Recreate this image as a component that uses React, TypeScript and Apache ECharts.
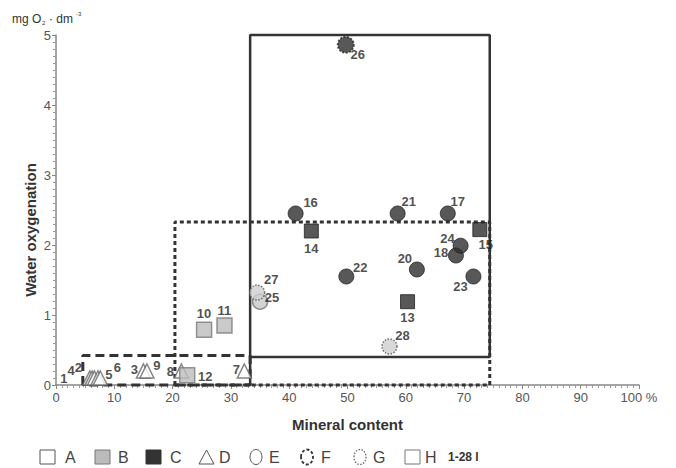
import React, { useEffect, useRef } from "react";
import * as echarts from "echarts";

// ---- data ----
const pointIds = [1, 4, 2, 5, 6, 3, 9, 8, 7, 10, 11, 12, 13, 14, 15, 16, 17, 18, 20, 21, 22, 23, 24, 25, 26, 27, 28];
const mineral = [5.8, 6.2, 6.6, 7.2, 7.6, 15.0, 15.6, 21.5, 32.3, 25.4, 28.9, 22.5, 60.3, 43.8, 72.7, 41.1, 67.2, 68.6, 61.9, 58.6, 49.8, 71.6, 69.4, 35.0, 49.7, 34.5, 57.2];
const oxygen = [0.1, 0.1, 0.1, 0.1, 0.1, 0.2, 0.2, 0.2, 0.2, 0.79, 0.85, 0.14, 1.19, 2.2, 2.22, 2.45, 2.45, 1.85, 1.65, 2.45, 1.55, 1.55, 1.99, 1.19, 4.86, 1.32, 0.55];
const pointKind = ["tri", "tri", "tri", "tri", "tri", "tri", "tri", "tri", "tri", "sqGray", "sqGray", "sqGray", "sqBlack", "sqBlack", "sqBlack", "cirBlack", "cirBlack", "cirBlack", "cirBlack", "cirBlack", "cirBlack", "cirBlack", "cirBlack", "cirGray", "cirBlackDot", "cirDot", "cirDot"];

const zoneSolidX = [33.3, 74.4];
const zoneSolidY = [0.4, 5.0];
const zoneDottedX = [20.4, 74.4];
const zoneDottedY = [0, 2.33];
const zoneDashedX = [4.6, 33.3];
const zoneDashedY = [0, 0.42];

const xTicks = [0, 10, 20, 30, 40, 50, 60, 70, 80, 90, 100];
const yTicks = [0, 1, 2, 3, 4, 5];

const legendNames = ["A", "B", "C", "D", "E", "F", "G", "H"];

// ---- styling ----
const FONT = "'Liberation Sans Narrow', 'Arial Narrow', 'Liberation Sans', Arial, sans-serif";
const FONT_REG = "'Liberation Sans', Arial, sans-serif";

const labelOffset: Record<number, [number, number]> = {
  1: [-26, 0], 4: [-21, -8], 2: [-16, -11], 5: [11, -4], 6: [17, -11],
  3: [-9, -2], 9: [10, -6], 8: [-11, 0], 12: [18, 1], 7: [-8, -2],
  10: [0, -16], 11: [0, -15], 25: [12, -4], 27: [14, -13], 16: [15, -11],
  14: [0, 17], 21: [11, -12], 17: [10, -12], 15: [6, 15], 24: [-13, -7],
  18: [-15, -3], 20: [-12, -11], 23: [-13, 10], 13: [0, 16], 28: [13, -11],
  22: [14, -9], 26: [12, 10],
};

const kindStyle: Record<string, any> = {
  tri: { symbol: "triangle", size: 14, itemStyle: { color: "#fff", borderColor: "#666", borderWidth: 1.5 } },
  sqGray: { symbol: "rect", size: 15, itemStyle: { color: "#bdbdbd", borderColor: "#7a7a7a", borderWidth: 1.5 } },
  sqBlack: { symbol: "rect", size: 14, itemStyle: { color: "#2e2e2e", borderColor: "#222", borderWidth: 1 } },
  cirBlack: { symbol: "circle", size: 15, itemStyle: { color: "#2e2e2e", borderColor: "#222", borderWidth: 1 } },
  cirGray: { symbol: "circle", size: 15, itemStyle: { color: "#c8c8c8", borderColor: "#777", borderWidth: 1.5 } },
  cirDot: { symbol: "circle", size: 15, itemStyle: { color: "#cfcfcf", borderColor: "#555", borderWidth: 1.5, borderType: [1.5, 1.5] } },
  cirBlackDot: { symbol: "circle", size: 16, itemStyle: { color: "#2e2e2e", borderColor: "#2e2e2e", borderWidth: 2, borderType: [2, 1.5] } },
};

function rectPath(xs: number[], ys: number[]) {
  return [
    [xs[0], ys[0]], [xs[0], ys[1]], [xs[1], ys[1]], [xs[1], ys[0]], [xs[0], ys[0]],
  ];
}

export default function App() {
  const ref = useRef<HTMLDivElement>(null);
  useEffect(() => {
    document.body.style.margin = "0";
    if (!ref.current) return;
    const chart = echarts.init(ref.current, undefined, { renderer: "svg" });

    const kinds = Array.from(new Set(pointKind));
    const scatterSeries = kinds.map((k) => {
      const st = kindStyle[k];
      const data = pointIds
        .map((id, i) => ({ id, i }))
        .filter((o) => pointKind[o.i] === k)
        .map(({ id, i }) => ({
          value: [mineral[i], oxygen[i]],
          name: String(id),
          label: { offset: labelOffset[id] || [10, -10] },
        }));
      return {
        type: "scatter",
        name: k,
        symbol: st.symbol,
        symbolSize: st.size,
        itemStyle: st.itemStyle,
        z: 5,
        zlevel: 0,
        label: {
          show: true,
          position: "inside",
          formatter: (p: any) => p.name,
          color: "#222",
          fontWeight: "bold",
          fontSize: 13,
          fontFamily: FONT,
          align: "center",
          verticalAlign: "middle",
          textBorderWidth: 0,
          textBorderColor: "transparent",
        },
        data,
      };
    });

    const solidData = [
      [zoneSolidX[0], 0], [zoneSolidX[0], zoneSolidY[1]], [zoneSolidX[1], zoneSolidY[1]],
      [zoneSolidX[1], zoneSolidY[0]], [zoneSolidX[0], zoneSolidY[0]],
    ];

    const zoneSeries = [
      {
        type: "line", data: rectPath(zoneDashedX, zoneDashedY), symbol: "none", silent: true, clip: false, z: 2,
        lineStyle: { color: "#333", width: 3, type: [9, 5] },
      },
      {
        type: "line", data: rectPath(zoneDottedX, zoneDottedY), symbol: "none", silent: true, clip: false, z: 3,
        lineStyle: { color: "#333", width: 3, type: [4, 3] },
      },
      {
        type: "line", data: solidData, symbol: "none", silent: true, clip: false, z: 4,
        lineStyle: { color: "#333", width: 2.5, type: "solid" },
      },
    ];

    const ly = 457;
    const legendShapes: any[] = [
      { type: "rect", shape: { x: 40, y: ly - 7, width: 15, height: 14 }, style: { fill: "#fff", stroke: "#555", lineWidth: 1 } },
      { type: "rect", shape: { x: 95, y: ly - 7, width: 15, height: 14 }, style: { fill: "#bbb", stroke: "#777", lineWidth: 1 } },
      { type: "rect", shape: { x: 146, y: ly - 7, width: 15, height: 14 }, style: { fill: "#333", stroke: "#333", lineWidth: 1 } },
      { type: "polygon", shape: { points: [[199, ly + 7], [214, ly + 7], [206.5, ly - 7]] }, style: { fill: "#fff", stroke: "#555", lineWidth: 1 } },
      { type: "ellipse", shape: { cx: 256, cy: ly, rx: 6, ry: 7.5 }, style: { fill: "#fff", stroke: "#555", lineWidth: 1 } },
      { type: "ellipse", shape: { cx: 307, cy: ly, rx: 6, ry: 7.5 }, style: { fill: "#fff", stroke: "#333", lineWidth: 1.8, lineDash: [3, 2] } },
      { type: "ellipse", shape: { cx: 360, cy: ly, rx: 6, ry: 7.5 }, style: { fill: "#fff", stroke: "#666", lineWidth: 1.3, lineDash: [1.5, 1.5] } },
      { type: "rect", shape: { x: 405, y: ly - 7, width: 15, height: 14 }, style: { fill: "#fff", stroke: "#777", lineWidth: 1 } },
    ];
    const legendTextX = [65, 118, 170, 219, 269, 321, 373, 425];
    const legendTexts = legendNames.map((n, i) => ({
      type: "text",
      style: { text: n, x: legendTextX[i], y: ly, fill: "#444", fontSize: 16, fontFamily: FONT_REG, verticalAlign: "middle", align: "left" },
    }));

    chart.setOption({
      animation: false,
      backgroundColor: "#fff",
      grid: { left: 56, right: 37, top: 35, bottom: 83 },
      xAxis: {
        type: "value",
        min: xTicks[0],
        max: xTicks[xTicks.length - 1],
        interval: 10,
        name: "Mineral content",
        nameLocation: "middle",
        nameGap: 32,
        nameTextStyle: { fontSize: 15, fontWeight: "bold", color: "#333", fontFamily: FONT },
        axisLine: { lineStyle: { color: "#888", width: 1.5 } },
        axisTick: { show: true, length: 4, lineStyle: { color: "#888" } },
        minorTick: { show: true, splitNumber: 10, length: 3, lineStyle: { color: "#999" } },
        splitLine: { show: false },
        axisLabel: {
          color: "#555",
          fontSize: 13,
          fontFamily: FONT_REG,
          margin: 6,
          formatter: (v: number) => (v === 100 ? "100 %" : String(v)),
        },
      },
      yAxis: {
        type: "value",
        min: yTicks[0],
        max: yTicks[yTicks.length - 1],
        interval: 1,
        axisLine: { show: true, lineStyle: { color: "#888", width: 1.5 } },
        axisTick: { show: true, length: 4, lineStyle: { color: "#888" } },
        minorTick: { show: true, splitNumber: 10, length: 3, lineStyle: { color: "#999" } },
        splitLine: { show: false },
        axisLabel: { color: "#555", fontSize: 13, fontFamily: FONT_REG, margin: 5 },
      },
      graphic: [
        { type: "text", style: { text: "Water oxygenation", x: 0, y: 0, fill: "#333", fontSize: 15, fontWeight: "bold", fontFamily: FONT, align: "center", verticalAlign: "middle" }, x: 30, y: 230, rotation: Math.PI / 2 },
        { type: "text", style: { text: "mg O", x: 12, y: 19, fill: "#333", fontSize: 12, fontFamily: FONT_REG, verticalAlign: "middle" } },
        { type: "text", style: { text: "2", x: 42, y: 23, fill: "#333", fontSize: 6, fontFamily: FONT_REG, verticalAlign: "middle" } },
        { type: "text", style: { text: "· dm", x: 49, y: 19, fill: "#333", fontSize: 12, fontFamily: FONT_REG, verticalAlign: "middle" } },
        { type: "text", style: { text: "-3", x: 76, y: 14, fill: "#333", fontSize: 6, fontFamily: FONT_REG, verticalAlign: "middle" } },
        ...legendShapes,
        ...legendTexts,
        { type: "text", style: { text: "1-28 l", x: 448, y: ly, fill: "#333", fontSize: 12, fontWeight: "bold", fontFamily: FONT, verticalAlign: "middle" } },
      ],
      series: [...zoneSeries, ...scatterSeries],
    });
    return () => chart.dispose();
  }, []);
  return <div ref={ref} style={{ width: 676, height: 468 }} />;
}
